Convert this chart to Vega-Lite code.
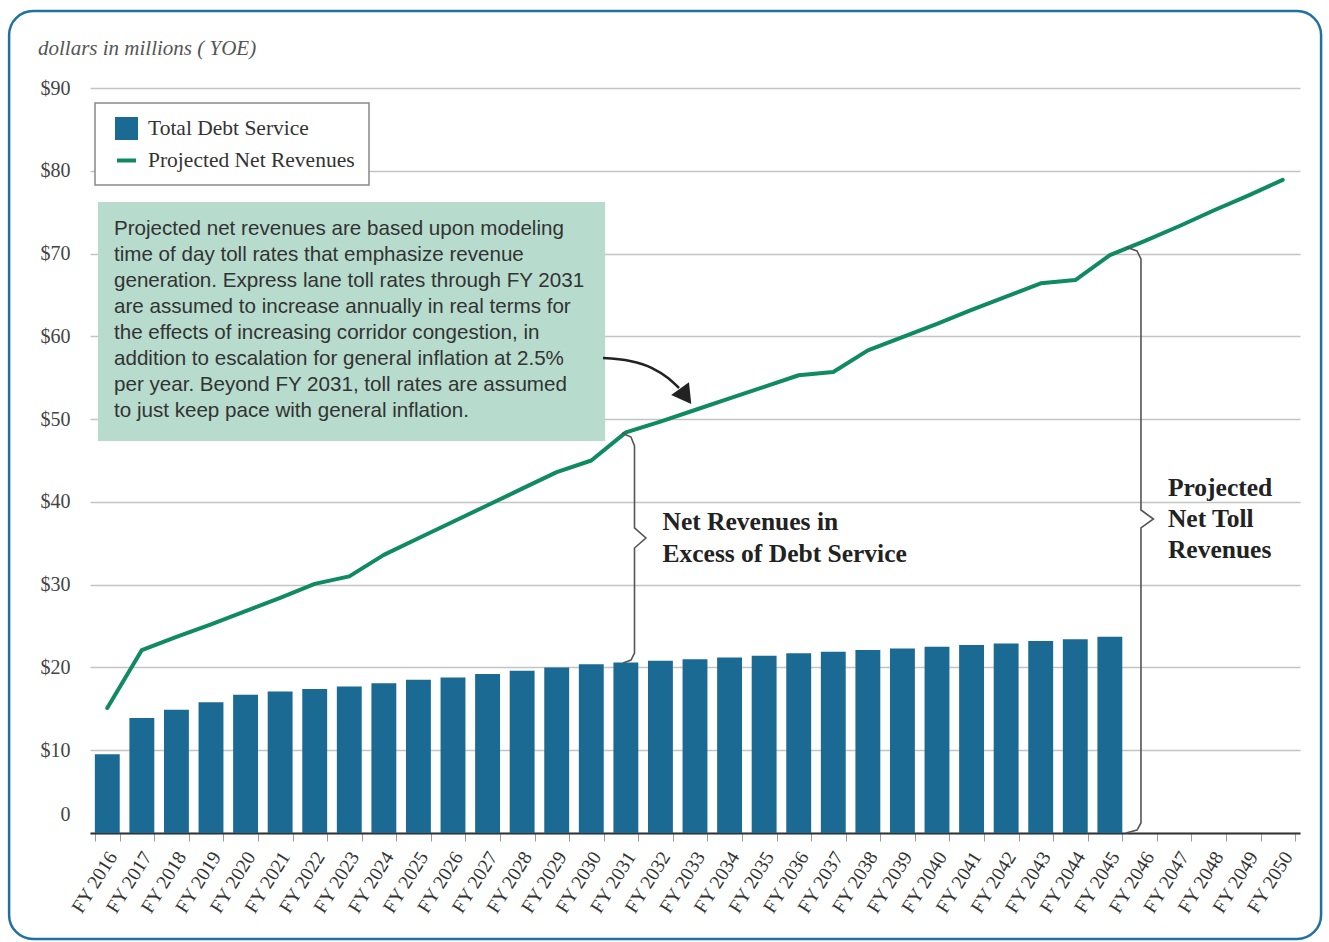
{
  "$schema": "https://vega.github.io/schema/vega-lite/v6.json",
  "width": 1210,
  "height": 745,
  "autosize": {"type": "none"},
  "padding": {"left": 90, "top": 88, "right": 29, "bottom": 109},
  "background": "white",
  "datasets": {
    "finance": [
      {"year": "FY 2016", "debt": 9.5, "revenue": 15.1},
      {"year": "FY 2017", "debt": 13.9, "revenue": 22.1},
      {"year": "FY 2018", "debt": 14.9, "revenue": 23.7},
      {"year": "FY 2019", "debt": 15.8, "revenue": 25.2},
      {"year": "FY 2020", "debt": 16.7, "revenue": 26.8},
      {"year": "FY 2021", "debt": 17.1, "revenue": 28.4},
      {"year": "FY 2022", "debt": 17.4, "revenue": 30.1},
      {"year": "FY 2023", "debt": 17.7, "revenue": 31.0},
      {"year": "FY 2024", "debt": 18.1, "revenue": 33.6},
      {"year": "FY 2025", "debt": 18.5, "revenue": 35.6},
      {"year": "FY 2026", "debt": 18.8, "revenue": 37.6},
      {"year": "FY 2027", "debt": 19.2, "revenue": 39.6},
      {"year": "FY 2028", "debt": 19.6, "revenue": 41.6},
      {"year": "FY 2029", "debt": 20.0, "revenue": 43.6},
      {"year": "FY 2030", "debt": 20.4, "revenue": 45.0},
      {"year": "FY 2031", "debt": 20.6, "revenue": 48.4},
      {"year": "FY 2032", "debt": 20.8, "revenue": 49.7},
      {"year": "FY 2033", "debt": 21.0, "revenue": 51.1},
      {"year": "FY 2034", "debt": 21.2, "revenue": 52.5},
      {"year": "FY 2035", "debt": 21.4, "revenue": 53.9},
      {"year": "FY 2036", "debt": 21.7, "revenue": 55.3},
      {"year": "FY 2037", "debt": 21.9, "revenue": 55.7},
      {"year": "FY 2038", "debt": 22.1, "revenue": 58.3},
      {"year": "FY 2039", "debt": 22.3, "revenue": 59.9},
      {"year": "FY 2040", "debt": 22.5, "revenue": 61.5},
      {"year": "FY 2041", "debt": 22.7, "revenue": 63.2},
      {"year": "FY 2042", "debt": 22.9, "revenue": 64.8},
      {"year": "FY 2043", "debt": 23.2, "revenue": 66.4},
      {"year": "FY 2044", "debt": 23.4, "revenue": 66.8},
      {"year": "FY 2045", "debt": 23.7, "revenue": 69.8},
      {"year": "FY 2046", "debt": null, "revenue": 71.5},
      {"year": "FY 2047", "debt": null, "revenue": 73.3},
      {"year": "FY 2048", "debt": null, "revenue": 75.2},
      {"year": "FY 2049", "debt": null, "revenue": 77.0},
      {"year": "FY 2050", "debt": null, "revenue": 78.9}
    ],
    "shapes": [
      {"shape": "arrow", "i": 0, "x": 14.839, "y": 57.38},
      {"shape": "arrow", "i": 1, "x": 15.62, "y": 57.02},
      {"shape": "arrow", "i": 2, "x": 16.257, "y": 56.17},
      {"shape": "arrow", "i": 3, "x": 16.72, "y": 54.97},
      {"shape": "arrow", "i": 4, "x": 17.038, "y": 53.76},
      {"shape": "brace1", "i": 0, "x": 15.389, "y": 48.32},
      {"shape": "brace1", "i": 1, "x": 15.649, "y": 47.84},
      {"shape": "brace1", "i": 2, "x": 15.75, "y": 46.75},
      {"shape": "brace1", "i": 3, "x": 15.75, "y": 36.85},
      {"shape": "brace1", "i": 4, "x": 16.08, "y": 35.64},
      {"shape": "brace1", "i": 5, "x": 15.75, "y": 34.43},
      {"shape": "brace1", "i": 6, "x": 15.75, "y": 21.74},
      {"shape": "brace1", "i": 7, "x": 15.649, "y": 20.9},
      {"shape": "brace1", "i": 8, "x": 15.418, "y": 20.54},
      {"shape": "brace2", "i": 0, "x": 29.967, "y": 70.79},
      {"shape": "brace2", "i": 1, "x": 30.285, "y": 70.31},
      {"shape": "brace2", "i": 2, "x": 30.4, "y": 69.34},
      {"shape": "brace2", "i": 3, "x": 30.4, "y": 39.02},
      {"shape": "brace2", "i": 4, "x": 30.76, "y": 37.93},
      {"shape": "brace2", "i": 5, "x": 30.4, "y": 36.85},
      {"shape": "brace2", "i": 6, "x": 30.4, "y": 1.21},
      {"shape": "brace2", "i": 7, "x": 30.285, "y": 0.36},
      {"shape": "brace2", "i": 8, "x": 29.967, "y": 0.0}
    ]
  },
  "layer": [
    {
      "data": {"name": "finance"},
      "encoding": {
        "x": {
          "field": "year",
          "type": "nominal",
          "sort": null,
          "scale": {"type": "band", "paddingInner": 0.28, "paddingOuter": 0.14},
          "axis": {
            "title": null,
            "tickBand": "extent",
            "ticks": true,
            "tickSize": 8,
            "tickColor": "#999999",
            "tickWidth": 1,
            "domain": true,
            "domainColor": "#333333",
            "domainWidth": 2,
            "grid": false,
            "labelAngle": -58,
            "labelAlign": "right",
            "labelBaseline": "middle",
            "labelPadding": 12,
            "labelOffset": 5,
            "labelFont": "Liberation Serif",
            "labelFontSize": 19.5,
            "labelColor": "#333333"
          }
        }
      },
      "layer": [
        {
          "mark": {"type": "bar"},
          "encoding": {
            "y": {
              "field": "debt",
              "type": "quantitative",
              "scale": {"domain": [0, 90], "nice": false},
              "axis": {
                "title": null,
                "values": [0, 10, 20, 30, 40, 50, 60, 70, 80, 90],
                "labelExpr": "datum.value == 0 ? '0' : '$' + datum.value",
                "labelOffset": {"condition": {"test": "datum.value == 0", "value": -19}, "value": 0},
                "grid": true,
                "gridColor": "#c4c4c4",
                "gridWidth": 1.5,
                "domain": false,
                "ticks": false,
                "tickSize": 0,
                "labelPadding": 20,
                "labelFont": "Liberation Serif",
                "labelFontSize": 20,
                "labelColor": "#444444"
              }
            },
            "color": {
              "datum": "Total Debt Service",
              "type": "nominal",
              "scale": {
                "domain": ["Total Debt Service", "Projected Net Revenues"],
                "range": ["#1b6a93", "#0f8a61"]
              },
              "legend": {
                "title": null,
                "orient": "none",
                "legendX": 5,
                "legendY": 15,
                "padding": 14,
                "strokeColor": "#888888",
                "fillColor": "white",
                "labelFont": "Liberation Serif",
                "labelFontSize": 21.5,
                "labelColor": "#333333",
                "labelOffset": 10,
                "labelLimit": 500,
                "rowPadding": 3,
                "symbolOffset": 6,
                "symbolSize": 361,
                "symbolStrokeWidth": 4,
                "encode": {
                  "legend": {"update": {"strokeWidth": {"value": 1.5}}},
                  "symbols": {
                    "update": {
                      "shape": {"signal": "datum.value === 'Total Debt Service' ? 'square' : 'stroke'"},
                      "fill": {"signal": "datum.value === 'Total Debt Service' ? '#1b6a93' : 'transparent'"},
                      "stroke": {"signal": "datum.value === 'Total Debt Service' ? 'transparent' : '#0f8a61'"},
                      "strokeWidth": {"value": 4},
                      "opacity": {"value": 1}
                    }
                  }
                }
              }
            }
          }
        },
        {
          "mark": {"type": "line", "strokeWidth": 4, "strokeJoin": "round", "strokeCap": "round"},
          "encoding": {
            "y": {"field": "revenue", "type": "quantitative"},
            "color": {"datum": "Projected Net Revenues", "type": "nominal"}
          }
        }
      ]
    },
    {
      "data": {"values": [{}]},
      "layer": [
        {
          "mark": {"type": "rect", "cornerRadius": 24, "fill": "transparent", "stroke": "#1f70a3", "strokeWidth": 2.5},
          "encoding": {
            "x": {"datum": -2.34, "type": "quantitative", "scale": {"domain": [0, 35], "nice": false, "zero": false}, "axis": null},
            "x2": {"datum": 35.61},
            "y": {"datum": 99.3, "type": "quantitative"},
            "y2": {"datum": -12.8}
          }
        },
        {
          "mark": {
            "type": "text",
            "text": "dollars in millions ( YOE)",
            "align": "left",
            "baseline": "alphabetic",
            "font": "Liberation Serif",
            "fontSize": 21,
            "fontStyle": "italic",
            "color": "#555555"
          },
          "encoding": {
            "x": {"datum": -1.504, "type": "quantitative", "axis": null},
            "y": {"datum": 93.99, "type": "quantitative"}
          }
        },
        {
          "mark": {"type": "rect", "fill": "#b7dbcd"},
          "encoding": {
            "x": {"datum": 0.231, "type": "quantitative", "axis": null},
            "x2": {"datum": 14.9},
            "y": {"datum": 76.23, "type": "quantitative"},
            "y2": {"datum": 47.36}
          }
        },
        {
          "mark": {
            "type": "text",
            "text": [
              "Projected net revenues are based upon modeling",
              "time of day toll rates that emphasize revenue",
              "generation. Express lane toll rates through FY 2031",
              "are assumed to increase annually in real terms for",
              "the effects of increasing corridor congestion, in",
              "addition to escalation for general inflation at 2.5%",
              "per year. Beyond FY 2031, toll rates are assumed",
              "to just keep pace with general inflation."
            ],
            "align": "left",
            "baseline": "alphabetic",
            "lineHeight": 26,
            "font": "Liberation Sans",
            "fontSize": 20.6,
            "color": "#333333"
          },
          "encoding": {
            "x": {"datum": 0.694, "type": "quantitative", "axis": null},
            "y": {"datum": 72.24, "type": "quantitative"}
          }
        },
        {
          "data": {"name": "shapes"},
          "transform": [{"filter": "datum.shape === 'arrow'"}],
          "mark": {"type": "line", "interpolate": "monotone", "color": "#222222", "strokeWidth": 2.5},
          "encoding": {
            "x": {"field": "x", "type": "quantitative", "axis": null},
            "y": {"field": "y", "type": "quantitative"},
            "order": {"field": "i"}
          }
        },
        {
          "mark": {"type": "point", "shape": "triangle-up", "angle": 144, "filled": true, "color": "#222222", "size": 484, "opacity": 1},
          "encoding": {
            "x": {"datum": 17.23, "type": "quantitative", "axis": null},
            "y": {"datum": 52.75, "type": "quantitative"}
          }
        },
        {
          "data": {"name": "shapes"},
          "transform": [{"filter": "datum.shape !== 'arrow'"}],
          "mark": {"type": "line", "color": "#555555", "strokeWidth": 1.6},
          "encoding": {
            "x": {"field": "x", "type": "quantitative", "axis": null},
            "y": {"field": "y", "type": "quantitative"},
            "detail": {"field": "shape"},
            "order": {"field": "i"}
          }
        },
        {
          "mark": {
            "type": "text",
            "text": ["Net Revenues in", "Excess of Debt Service"],
            "align": "left",
            "baseline": "alphabetic",
            "lineHeight": 32,
            "font": "Liberation Serif",
            "fontSize": 25.5,
            "fontWeight": "bold",
            "color": "#222222"
          },
          "encoding": {
            "x": {"datum": 16.56, "type": "quantitative", "axis": null},
            "y": {"datum": 36.6, "type": "quantitative"}
          }
        },
        {
          "mark": {
            "type": "text",
            "text": ["Projected", "Net Toll", "Revenues"],
            "align": "left",
            "baseline": "alphabetic",
            "lineHeight": 31,
            "font": "Liberation Serif",
            "fontSize": 25.5,
            "fontWeight": "bold",
            "color": "#222222"
          },
          "encoding": {
            "x": {"datum": 31.18, "type": "quantitative", "axis": null},
            "y": {"datum": 40.75, "type": "quantitative"}
          }
        }
      ]
    }
  ],
  "resolve": {"scale": {"x": "independent"}},
  "config": {
    "view": {"stroke": null}
  }
}
